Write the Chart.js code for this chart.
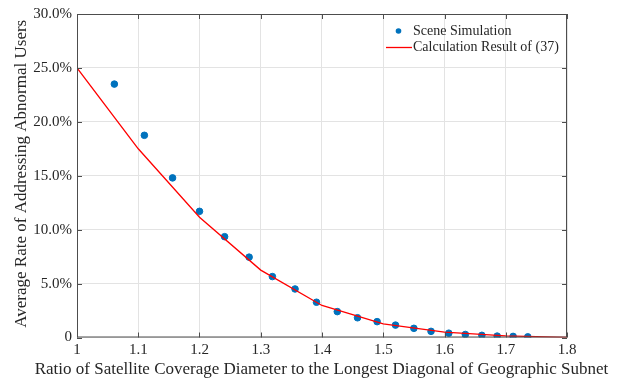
<!DOCTYPE html>
<html>
<head>
<meta charset="utf-8">
<script src="https://cdn.jsdelivr.net/npm/chart.js@4/dist/chart.umd.min.js"></script>
<style>
  html, body { margin: 0; padding: 0; background: #fff; }
  #wrap { width: 621px; height: 383px; }
</style>
</head>
<body>
<div id="wrap"><canvas id="rateChart" width="621" height="383"></canvas></div>
<script>
// Scene simulation points (ratio, rate in %)
const simX = [1.061, 1.110, 1.156, 1.200, 1.241, 1.281, 1.319, 1.356, 1.391, 1.425, 1.458,
              1.490, 1.520, 1.550, 1.578, 1.607, 1.634, 1.661, 1.686, 1.712, 1.736];
const simY = [23.5, 18.75, 14.8, 11.7, 9.35, 7.45, 5.65, 4.5, 3.27, 2.4, 1.83,
              1.47, 1.15, 0.85, 0.57, 0.4, 0.28, 0.2, 0.13, 0.1, 0.06];

// Calculation result of (37)
const calcX = [1.0, 1.1, 1.2, 1.3, 1.4, 1.5, 1.6, 1.7, 1.8];
const calcY = [25.0, 17.5, 11.15, 6.25, 2.97, 1.27, 0.5, 0.15, 0.0];

const xTicks = [1, 1.1, 1.2, 1.3, 1.4, 1.5, 1.6, 1.7, 1.8];
const yTicks = [0, 5, 10, 15, 20, 25, 30];

const seriesNames = ['Scene Simulation', 'Calculation Result of (37)'];
const xTitle = 'Ratio of Satellite Coverage Diameter to the Longest Diagonal of Geographic Subnet';
const yTitle = 'Average Rate of Addressing Abnormal Users';

const serif = '"Liberation Serif", "Times New Roman", serif';
const textColor = '#262626';
const boxColor = '#4d4d4d';

// box around the plot and inward ticks, like matlab "box on"
const boxPlugin = {
    id: 'boxPlugin',
    afterDatasetsDraw(chart) {
        const ctx = chart.ctx;
        const a = chart.chartArea;
        const xs = chart.scales.x, ys = chart.scales.y;
        ctx.save();
        ctx.strokeStyle = boxColor;
        ctx.lineWidth = 1;
        ctx.strokeRect(a.left + 0.5, a.top + 0.5, a.right - a.left - 1, a.bottom - a.top - 1);
        ctx.beginPath();
        xTicks.forEach(v => {
            const px = Math.round(xs.getPixelForValue(v)) + 0.5;
            ctx.moveTo(px, a.bottom); ctx.lineTo(px, a.bottom - 5);
            ctx.moveTo(px, a.top); ctx.lineTo(px, a.top + 5);
        });
        yTicks.forEach(v => {
            const py = Math.round(ys.getPixelForValue(v)) + 0.5;
            ctx.moveTo(a.left, py); ctx.lineTo(a.left + 5, py);
            ctx.moveTo(a.right, py); ctx.lineTo(a.right - 5, py);
        });
        ctx.stroke();
        ctx.restore();
    }
};

// axis titles drawn by hand so they are not squeezed to the plot width
const titlePlugin = {
    id: 'axisTitles',
    afterDraw(chart) {
        const ctx = chart.ctx;
        const a = chart.chartArea;
        ctx.save();
        ctx.fillStyle = textColor;
        ctx.font = '17px ' + serif;
        ctx.textAlign = 'center';
        ctx.textBaseline = 'middle';
        ctx.fillText(xTitle, (a.left + a.right) / 2 - 0.5, 370);
        ctx.translate(21.5, (a.top + a.bottom) / 2 - 2);
        ctx.rotate(-Math.PI / 2);
        ctx.fillText(yTitle, 0, 0);
        ctx.restore();
    }
};

// legend inside the top right corner
const legendPlugin = {
    id: 'insideLegend',
    afterDraw(chart) {
        const ctx = chart.ctx;
        const ds = chart.data.datasets;
        ctx.save();
        ctx.font = '14px ' + serif;
        ctx.textBaseline = 'middle';
        ctx.textAlign = 'left';
        // scene simulation marker
        ctx.beginPath();
        ctx.fillStyle = ds[0].backgroundColor;
        ctx.arc(398.5, 31, 2.8, 0, Math.PI * 2);
        ctx.fill();
        ctx.fillStyle = textColor;
        ctx.fillText(ds[0].label, 413, 31);
        // calculation line
        ctx.strokeStyle = ds[1].borderColor;
        ctx.lineWidth = 1.3;
        ctx.beginPath();
        ctx.moveTo(386, 47.5); ctx.lineTo(412, 47.5);
        ctx.stroke();
        ctx.fillText(ds[1].label, 413, 47);
        ctx.restore();
    }
};

const simPoints = simX.map((x, i) => ({ x: x, y: simY[i] }));
const calcPoints = calcX.map((x, i) => ({ x: x, y: calcY[i] }));

const ctx = document.getElementById('rateChart').getContext('2d');
const rateChart = new Chart(ctx, {
    type: 'scatter',
    data: {
        datasets: [{
            label: seriesNames[0],
            data: simPoints,
            backgroundColor: '#0072BD',
            borderColor: '#0072BD',
            pointRadius: 3.3,
            pointHoverRadius: 3.3,
            showLine: false,
            order: 1
        }, {
            label: seriesNames[1],
            data: calcPoints,
            borderColor: '#FF0000',
            backgroundColor: '#FF0000',
            borderWidth: 1.3,
            pointRadius: 0,
            showLine: true,
            tension: 0,
            order: 0
        }]
    },
    options: {
        responsive: false,
        animation: false,
        layout: { padding: { top: 14, right: 54, bottom: 0, left: 0 } },
        plugins: {
            legend: { display: false },
            tooltip: { enabled: false }
        },
        scales: {
            x: {
                type: 'linear',
                min: 1,
                max: 1.8,
                afterBuildTicks: function (scale) {
                    scale.ticks = xTicks.map(v => ({ value: v }));
                },
                afterFit: function (scale) { scale.height = 45.5; },
                ticks: {
                    padding: 4,
                    color: textColor,
                    font: { family: serif, size: 15 },
                    callback: function (value) {
                        return Number(value.toFixed(1)).toString();
                    }
                },
                grid: { color: '#e3e3e3', drawTicks: false },
                border: { display: false }
            },
            y: {
                type: 'linear',
                min: 0,
                max: 30,
                afterBuildTicks: function (scale) {
                    scale.ticks = yTicks.map(v => ({ value: v }));
                },
                afterFit: function (scale) { scale.width = 77; },
                ticks: {
                    padding: 5,
                    color: textColor,
                    font: { family: serif, size: 15 },
                    callback: function (value) {
                        return value === 0 ? '0' : value.toFixed(1) + '%';
                    }
                },
                grid: { color: '#e3e3e3', drawTicks: false },
                border: { display: false }
            }
        }
    },
    plugins: [boxPlugin, titlePlugin, legendPlugin]
});
</script>
</body>
</html>
